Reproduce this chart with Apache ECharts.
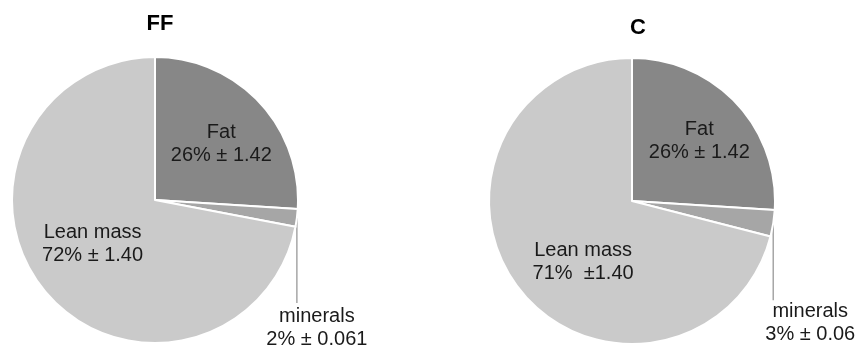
<!DOCTYPE html>
<html>
<head>
<meta charset="utf-8">
<style>
  html, body { margin: 0; padding: 0; background: #fff; }
  #chart { width: 859px; height: 350px; }
</style>
<script src="https://cdn.jsdelivr.net/npm/echarts@6/dist/echarts.min.js"></script>
</head>
<body>
<div id="chart"></div>
<script>
    // body composition, clockwise from 12 o'clock
    let parts = ['Fat', 'minerals', 'Lean mass']
    let ffValues = [26, 2, 72]
    let ffErr = ['± 1.42', '± 0.061', '± 1.40']
    let cValues = [26, 3, 71]
    let cErr = ['± 1.42', '± 0.06', ' ±1.40']
    let sliceColors = ['#878787', '#a6a6a6', '#cacaca']

    let chart = echarts.init(document.getElementById('chart'))

    // builds one pie; offsets nudge the inside labels where the original had them
    function makePie(name, values, errs, center, fatOffset, leanOffset) {
        let offsets = [fatOffset, null, leanOffset]
        return {
            name: name,
            type: 'pie',
            radius: 143,
            center: center,
            startAngle: 90,
            clockwise: true,
            avoidLabelOverlap: false,
            animation: false,
            itemStyle: {
                borderColor: '#ffffff',
                borderWidth: 2
            },
            label: {
                color: '#1a1a1a',
                fontFamily: 'Liberation Sans, Arial, sans-serif',
                fontSize: 20,
                lineHeight: 23,
                align: 'center'
            },
            data: parts.map((p, i) => {
                let item = {
                    name: p,
                    value: values[i],
                    itemStyle: { color: sliceColors[i] },
                    label: {
                        formatter: p + '\n' + values[i] + '% ' + errs[i]
                    }
                }
                if (i === 1) {
                    item.label.position = 'outside'
                    item.labelLine = {
                        show: true,
                        length: 10,
                        length2: 10,
                        lineStyle: { color: '#a6a6a6', width: 1.5 }
                    }
                } else {
                    item.label.position = 'inside'
                    item.label.offset = offsets[i]
                    item.labelLine = { show: false }
                }
                return item
            })
        }
    }

    let ffSeries = makePie('FF', ffValues, ffErr, [155, 200], [12, -5], [-5, -4])
    let cSeries = makePie('C', cValues, cErr, [632, 201], [13, -9], [10, 15])

    // minerals label hangs below a vertical leader line from the slice edge
    let leaderDrop = [85, 77]
    let labelShift = [20, 37]
    let labelDrop = [110, 100]
    function mineralLayout(k) {
        return function (params) {
            if (params.dataIndex !== 1 || !params.labelLinePoints) return {}
            let p0 = params.labelLinePoints[0]
            let lineEnd = p0[1] + leaderDrop[k]
            return {
                x: p0[0] + labelShift[k],
                y: p0[1] + labelDrop[k],
                align: 'center',
                verticalAlign: 'middle',
                labelLinePoints: [p0, [p0[0], lineEnd], [p0[0], lineEnd]]
            }
        }
    }
    ffSeries.labelLayout = mineralLayout(0)
    cSeries.labelLayout = mineralLayout(1)

    chart.setOption({
        backgroundColor: '#ffffff',
        title: [
            {
                text: 'FF',
                left: 155,
                top: 8,
                textAlign: 'center',
                textStyle: {
                    fontFamily: 'Liberation Sans, Arial, sans-serif',
                    fontWeight: 'bold',
                    fontSize: 22,
                    color: '#000'
                }
            },
            {
                text: 'C',
                left: 633,
                top: 12,
                textAlign: 'center',
                textStyle: {
                    fontFamily: 'Liberation Sans, Arial, sans-serif',
                    fontWeight: 'bold',
                    fontSize: 22,
                    color: '#000'
                }
            }
        ],
        series: [ffSeries, cSeries]
    })
</script>
</body>
</html>
